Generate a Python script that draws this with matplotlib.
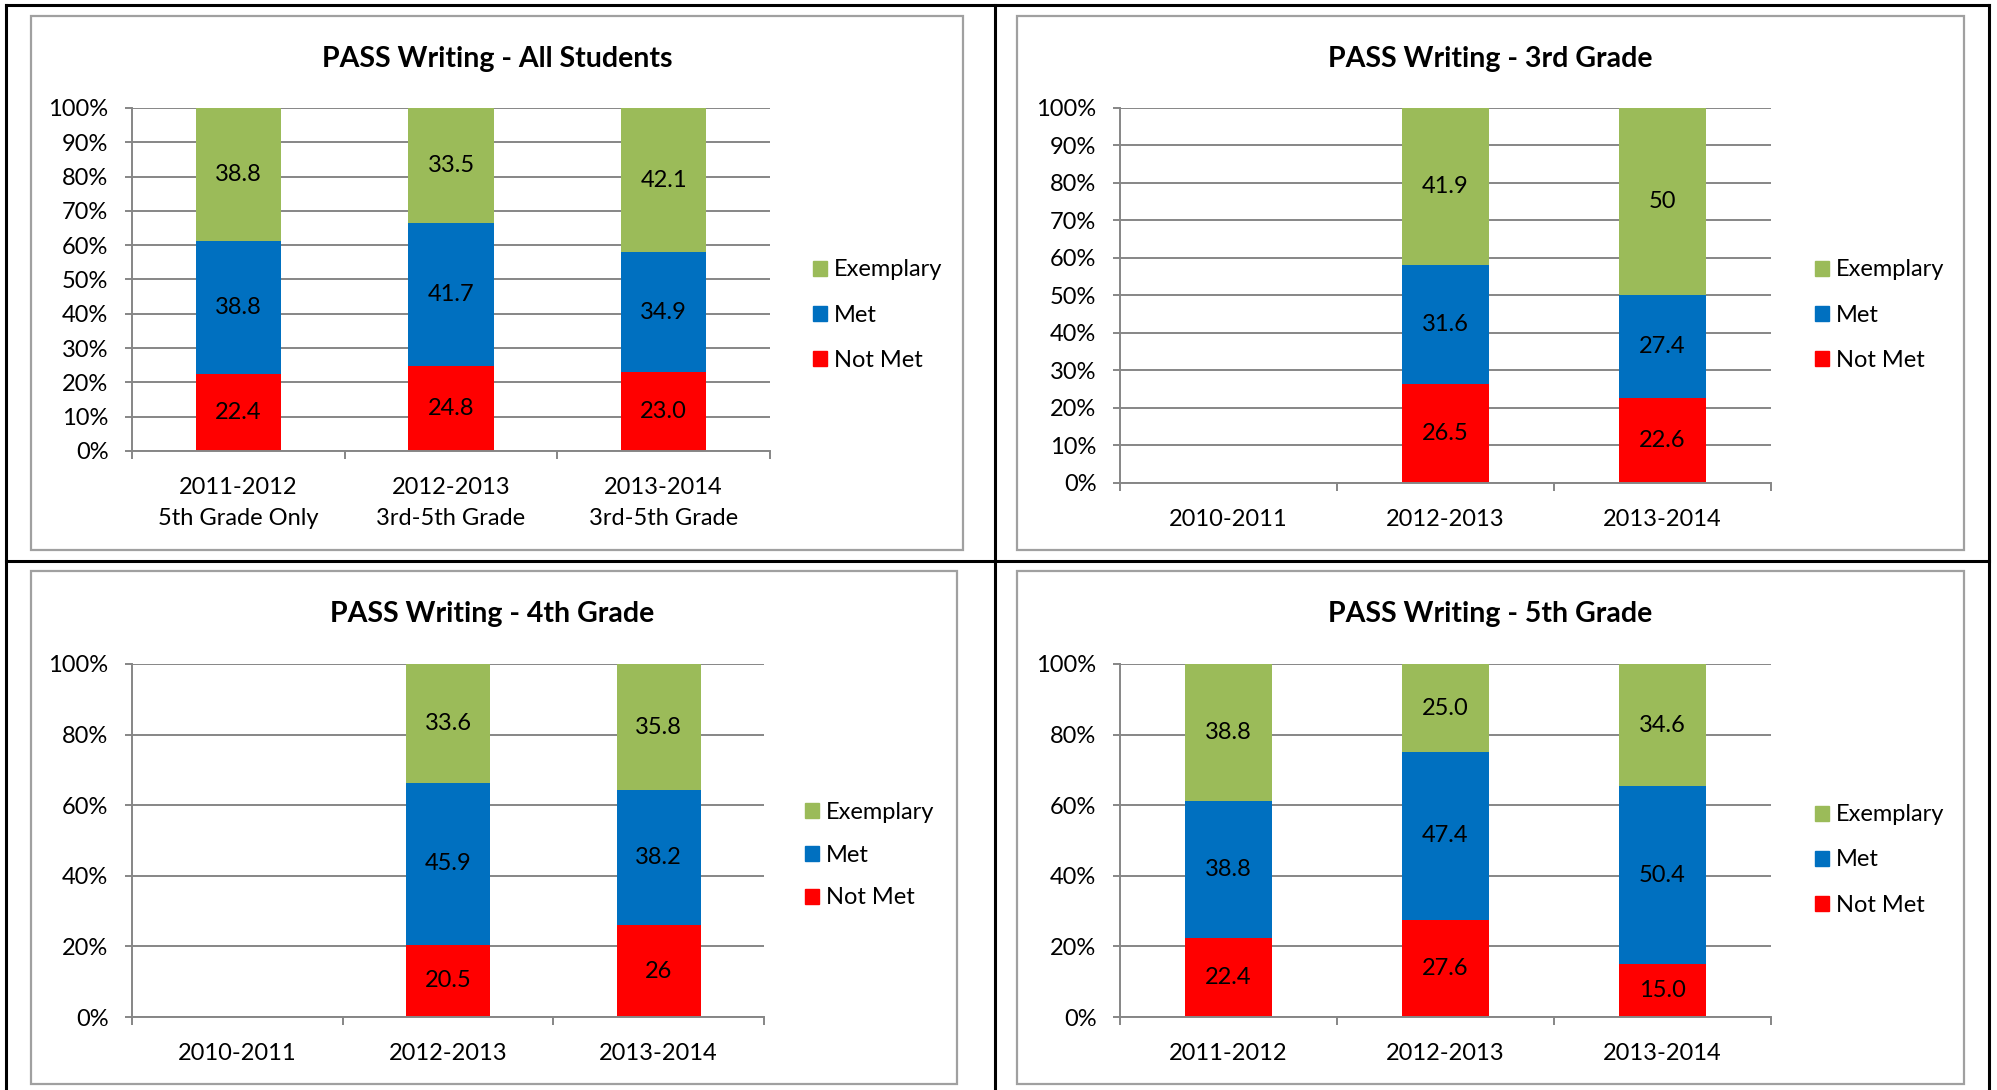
import matplotlib
matplotlib.use("Agg")
import matplotlib.pyplot as plt
from matplotlib.patches import Rectangle, Patch
from matplotlib.lines import Line2D
import numpy as np

plt.rcParams['font.family'] = ['Lato', 'DejaVu Sans']

# ---------------- data ----------------
series_names = ["Not Met", "Met", "Exemplary"]

title_all = "PASS Writing - All Students"
cats_all = ["2011-2012\n5th Grade Only", "2012-2013\n3rd-5th Grade", "2013-2014\n3rd-5th Grade"]
notmet_all = ["22.4", "24.8", "23.0"]
met_all = ["38.8", "41.7", "34.9"]
exem_all = ["38.8", "33.5", "42.1"]

title_3 = "PASS Writing - 3rd Grade"
cats_3 = ["2010-2011", "2012-2013", "2013-2014"]
notmet_3 = [None, "26.5", "22.6"]
met_3 = [None, "31.6", "27.4"]
exem_3 = [None, "41.9", "50"]

title_4 = "PASS Writing - 4th Grade"
cats_4 = ["2010-2011", "2012-2013", "2013-2014"]
notmet_4 = [None, "20.5", "26"]
met_4 = [None, "45.9", "38.2"]
exem_4 = [None, "33.6", "35.8"]

title_5 = "PASS Writing - 5th Grade"
cats_5 = ["2011-2012", "2012-2013", "2013-2014"]
notmet_5 = ["22.4", "27.6", "15.0"]
met_5 = ["38.8", "47.4", "50.4"]
exem_5 = ["38.8", "25.0", "34.6"]

yticks_top = [0, 10, 20, 30, 40, 50, 60, 70, 80, 90, 100]
yticks_bottom = [0, 20, 40, 60, 80, 100]

# ---------------- style ----------------
RED = "#FF0000"
BLUE = "#0070C0"
GREEN = "#9BBB59"
GRID = "#868686"
FRAME = "#A0A0A0"
FS = 17
TFS = 20.5

W, H = 1997, 1090
fig = plt.figure(figsize=(W / 100, H / 100), dpi=100)


def fx(x):
    return x / W


def fy(y):
    return 1 - y / H


def add_panel(frame, plot, title, title_xy, leg_xy, legspacing,
              cats, notmet, met, exem, yticks):
    x0, y0, x1, y1 = frame
    fig.add_artist(Rectangle((fx(x0), fy(y1)), (x1 - x0) / W, (y1 - y0) / H,
                             transform=fig.transFigure, fill=False,
                             edgecolor=FRAME, lw=1.6))
    px0, ptop, px1, pbot = plot
    ax = fig.add_axes([fx(px0), fy(pbot), (px1 - px0) / W, (pbot - ptop) / H])
    x = np.arange(len(cats))
    bottom = np.zeros(len(cats))
    for vals, col in ((notmet, RED), (met, BLUE), (exem, GREEN)):
        h = np.array([float(v) if v is not None else np.nan for v in vals])
        ax.bar(x, np.nan_to_num(h), 0.4, bottom=bottom, color=col, linewidth=0, zorder=2)
        for xi, v, hi, bi in zip(x, vals, h, bottom):
            if v is not None:
                ax.text(xi, bi + hi / 2, v, ha="center", va="center",
                        fontsize=FS, color="black", zorder=3)
        bottom = bottom + np.nan_to_num(h)
    ax.set_xlim(-0.5, len(cats) - 0.5)
    ax.set_ylim(0, 100)
    ax.set_yticks(yticks)
    ax.set_yticklabels([f"{t}%" for t in yticks], fontsize=FS)
    ax.yaxis.grid(True, color=GRID, lw=1.4, zorder=0)
    ax.set_axisbelow(True)
    for s in ("top", "right"):
        ax.spines[s].set_visible(False)
    for s in ("left", "bottom"):
        ax.spines[s].set_color(GRID)
        ax.spines[s].set_linewidth(1.4)
    ax.tick_params(axis="y", direction="out", length=5, width=1.4, color=GRID, pad=12)
    ax.set_xticks(np.arange(len(cats) + 1) - 0.5)
    ax.set_xticklabels([])
    ax.tick_params(axis="x", which="major", direction="out", length=6, width=1.4, color=GRID)
    ax.set_xticks(x, minor=True)
    ax.set_xticklabels(cats, minor=True, fontsize=FS, linespacing=1.6)
    ax.tick_params(axis="x", which="minor", length=0, pad=18.5)
    fig.text(fx(title_xy[0]), fy(title_xy[1]), title, ha="center", va="center",
             fontsize=TFS, fontweight="bold")
    handles = [Patch(color=GREEN, label="Exemplary"), Patch(color=BLUE, label="Met"),
               Patch(color=RED, label="Not Met")]
    fig.legend(handles=handles, loc="center left",
               bbox_to_anchor=(fx(leg_xy[0]), fy(leg_xy[1])),
               bbox_transform=fig.transFigure, frameon=False, borderpad=0,
               borderaxespad=0, handlelength=0.6, handleheight=0.6,
               handletextpad=0.3, labelspacing=legspacing, fontsize=FS)
    return ax


add_panel((31, 16, 963, 550), (132, 108, 770, 451), title_all, (497, 59),
          (813, 315), 1.02, cats_all, notmet_all, met_all, exem_all, yticks_top)
add_panel((1017, 16, 1964, 550), (1120, 108, 1771, 483), title_3, (1490, 59),
          (1815, 315), 1.02, cats_3, notmet_3, met_3, exem_3, yticks_top)
add_panel((31, 571, 957, 1084), (132, 664, 764, 1017), title_4, (492, 614),
          (805, 855), 0.93, cats_4, notmet_4, met_4, exem_4, yticks_bottom)
add_panel((1017, 571, 1964, 1084), (1120, 664, 1771, 1017), title_5, (1490, 614),
          (1815, 860), 1.02, cats_5, notmet_5, met_5, exem_5, yticks_bottom)

# outer black table lines
for (xa, ya, xb, yb) in [(6, 5, 1989, 5), (6, 5, 6, 1090), (1989, 5, 1989, 1090),
                         (995, 5, 995, 1090), (6, 561, 1989, 561)]:
    fig.add_artist(Line2D([fx(xa), fx(xb)], [fy(ya), fy(yb)], color="black",
                          lw=2.2, transform=fig.transFigure))

fig.savefig("out.png", dpi=100, facecolor="white")
